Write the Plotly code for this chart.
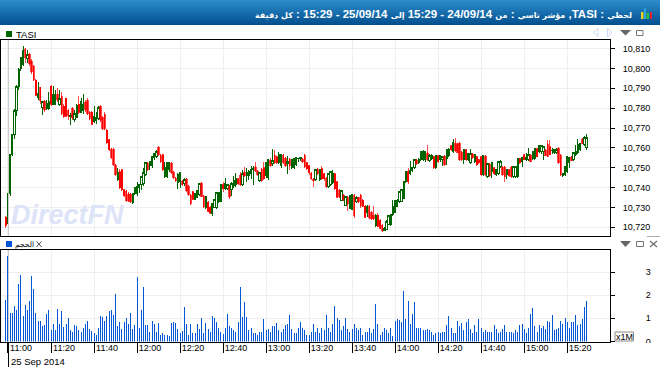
import plotly.graph_objects as go
import pandas as pd

W, H = 660, 367

open_ = [
10725,10722,10737,10756.5,10766.5,10779,10791,10800,10802,10810,
10805,10807.5,10804,10801.5,10794,10785.5,10790.5,10780.5,10783.5,10780,
10780,10791,10782,10782,10787,10782,10786,10781,10785,10779,
10776,10780,10774.5,10775.5,10782,10778,10779,10783,10784,10778,
10778,10773.5,10774,10775,10781,10775.5,10777,10769,10764,10759.5,
10759.5,10751.5,10744,10748,10749,10739,10738.5,10737,10737,10732.5,
10737,10737,10740,10741.5,10742,10746.5,10752.5,10751,10751,10755,
10755.5,10760.5,10756.5,10756.5,10745.5,10745.5,10749,10752.5,10748,10745,
10742.5,10743,10743.5,10742,10744.5,10741,10736.5,10738,10734,10735,
10736.5,10742.5,10736,10730,10732.5,10730,10727,10730,10730,10733,
10733,10741.5,10739.5,10739.5,10741,10739,10741,10741.5,10744.5,10746.5,
10741.5,10748,10746,10746,10747,10749,10750.5,10748.5,10743.5,10749.5,
10750,10746,10745,10754,10752,10756.5,10755.5,10752.5,10751,10756.5,
10755,10752,10754.5,10750,10750,10751.5,10754.5,10754.5,10754.5,10756.5,
10752.5,10751,10747.5,10744.5,10744,10749.5,10744,10749.5,10747,10745,
10740.5,10741.5,10742.5,10747,10743,10739,10733.5,10736.5,10731,10735.5,
10729.5,10729,10736.5,10733,10735,10736.5,10733.5,10730.5,10727.5,10730.5,
10727.5,10726,10721,10726,10723.5,10721,10718.5,10719,10721.5,10721.5,
10726.5,10727.5,10730.5,10733,10733,10734.5,10743,10748,10747,10748.5,
10750,10754,10752.5,10754,10754,10754,10757.5,10753.5,10754.5,10755.5,
10750,10756,10754,10754,10756,10754.5,10756,10761,10758,10762.5,
10762,10762.5,10758,10754,10759,10754,10752.5,10757,10753,10755.5,
10754,10755.5,10746.5,10756,10745.5,10752,10748,10750,10746.5,10747,
10750.5,10750.5,10750.5,10746.5,10749,10750.5,10745.5,10745.5,10745.5,10754.5,
10753,10756.5,10754,10754,10756.5,10754.5,10754.5,10759.5,10758,10758,
10758,10759,10762,10760.5,10758.5,10757.5,10757.5,10760,10756.5,10746,
10746.5,10748,10752.5,10755.5,10754,10756.5,10757.5,10759,10764.5,10761.5,
10760]
high = [
10725.5,10737,10757,10767,10779.5,10791.5,10800,10805.5,10811.5,10810.5,
10809.5,10808,10805,10802,10794.5,10793,10790.5,10783.5,10784,10784,
10788,10791.5,10791,10789,10790,10789,10788,10782,10785,10779.5,
10777.5,10780.5,10779,10782,10786,10785,10787,10784,10785,10778.5,
10778.5,10781,10778,10781,10781.5,10776,10778,10769.5,10764.5,10760,
10760,10752,10750,10749.5,10749.5,10739.5,10739,10738,10737.5,10737,
10740,10743,10742,10745.5,10750,10752.5,10753,10753.5,10755.5,10757,
10759,10760.5,10757,10757,10753,10753,10753,10753,10748.5,10745.5,
10747.5,10748,10744,10745,10745,10741.5,10737,10738.5,10737.5,10739,
10742.5,10743,10736.5,10736,10733,10730.5,10732,10734,10738,10738,
10742,10743,10745,10742,10741.5,10743,10746,10747.5,10745,10748,
10749,10750.5,10750,10749,10751,10751,10753,10749,10748,10750,
10753,10752.5,10754,10755,10759.5,10759,10756,10758,10757,10757,
10755.5,10756,10755,10754.5,10755,10755,10755,10755.5,10755,10757,
10753,10751.5,10748,10745,10749.5,10750,10749.5,10751,10747.5,10745.5,
10747,10748,10749,10747.5,10743.5,10739.5,10739,10737,10736,10736,
10736,10737,10737,10736,10735.5,10737,10734,10731,10731,10731,
10728,10730.5,10726.5,10727,10724,10721.5,10720,10723.5,10726,10726.5,
10733.5,10733.5,10734,10738,10739,10743,10748,10750,10753.5,10750.5,
10754,10754.5,10755,10758.5,10759,10758.5,10761.5,10757,10757,10756,
10756.5,10756.5,10756,10756,10756.5,10759.5,10760,10761.5,10764.5,10765,
10762.5,10763,10758.5,10759,10759.5,10757,10759.5,10757.5,10756.5,10756,
10754.5,10756,10756,10756.5,10752,10752.5,10752.5,10750.5,10749.5,10753,
10754,10751,10751,10749.5,10749.5,10751,10751,10751,10754.5,10755,
10755,10757,10757.5,10760,10757,10758.5,10759.5,10760,10761,10761,
10760.5,10759.5,10764,10764,10760,10759,10760,10760,10757,10747.5,
10750.5,10755.5,10755,10756,10757.5,10761.5,10764.5,10762,10765,10766,
10767]
low = [
10719.5,10722,10736,10756,10764.5,10776,10789,10798.5,10801,10803,
10803,10801,10797,10793.5,10786,10784,10782,10776.5,10778,10779,
10779,10781,10782,10781.5,10783,10781,10776.5,10775,10775.5,10774,
10771.5,10774,10773,10775,10777,10777.5,10777,10778,10776.5,10774,
10771.5,10772.5,10772,10774,10773,10769,10769,10762,10758.5,10754.5,
10751,10746,10743.5,10739.5,10738.5,10735.5,10733,10732.5,10732,10731.5,
10736.5,10736,10737.5,10739,10741,10746,10748.5,10749,10750,10754,
10755,10756,10752.5,10748.5,10745,10745,10748,10747,10744.5,10743,
10739.5,10740,10741,10741,10738,10736,10731,10733.5,10733.5,10734.5,
10736,10735,10729.5,10729,10727.5,10727,10725.5,10729.5,10729,10732,
10732.5,10738,10739,10739,10734,10736,10740,10740.5,10741.5,10741,
10741,10745.5,10743,10744,10744.5,10741.5,10748,10746,10743,10743,
10744,10745,10744,10750.5,10751,10752,10752,10752,10750,10752,
10750.5,10747,10749,10749.5,10749.5,10751,10753,10753.5,10752.5,10750,
10749,10746.5,10744,10740.5,10743.5,10746.5,10743.5,10744,10743.5,10740,
10740,10741,10742,10739,10734.5,10734.5,10733,10733,10730.5,10728,
10729,10728.5,10724.5,10732,10732,10729.5,10730,10724.5,10725,10724,
10723.5,10723.5,10720,10720,10719,10717.5,10718,10718.5,10721,10720.5,
10725.5,10727,10730,10732,10732.5,10734,10742.5,10742,10746.5,10748,
10749.5,10751.5,10752,10753.5,10753.5,10753,10753.5,10753,10754,10749.5,
10749.5,10752.5,10753,10751,10751,10751.5,10755.5,10758.5,10757.5,10758,
10757.5,10753.5,10753.5,10752,10753.5,10753.5,10752,10754.5,10752.5,10751,
10752,10746,10746,10746,10745,10745.5,10745,10746.5,10746,10746.5,
10750,10746,10743,10744.5,10745.5,10745,10745,10745,10745,10752,
10750.5,10754,10753.5,10753.5,10753,10754,10754,10755.5,10757.5,10757,
10754,10756,10755.5,10756.5,10757,10757,10757,10752,10746,10745.5,
10746,10747.5,10750,10753.5,10753.5,10756,10757,10758.5,10762,10761,
10759]
close = [
10721,10737,10756.5,10766.5,10779,10791,10799.5,10805.5,10809,10805.5,
10807,10802.5,10798,10794,10786.5,10787.5,10783.5,10783.5,10779,10782.5,
10783.5,10782,10787,10787,10784,10785,10777,10776,10776,10776,
10776.5,10775,10777.5,10781.5,10778,10783.5,10782,10779,10777,10774.5,
10772,10776,10775.5,10780.5,10774,10769.5,10769.5,10762.5,10759,10755,
10751.5,10746.5,10747.5,10740,10739,10736,10733,10733,10732.5,10737,
10740,10740.5,10741.5,10745.5,10747.5,10752.5,10749,10753,10755.5,10757,
10758,10756.5,10753,10749,10750,10752.5,10752.5,10747.5,10745,10743.5,
10746.5,10747.5,10741.5,10744,10738.5,10736.5,10731.5,10734,10737,10738.5,
10742,10735.5,10730,10735.5,10728,10727,10732,10734,10737.5,10737.5,
10741.5,10739.5,10742,10741.5,10735,10742,10743.5,10744.5,10742,10741.5,
10747,10746,10747.5,10748,10749,10749.5,10748.5,10746.5,10747.5,10743.5,
10744.5,10752.5,10754,10751,10753.5,10752.5,10752.5,10756.5,10756.5,10752.5,
10751,10753,10751,10754,10754.5,10755,10754.6,10755,10753,10750.5,
10749.5,10747.5,10744.5,10743.5,10749,10747,10749,10744.5,10744.5,10740.5,
10747,10748,10747,10739.5,10735,10735,10738.5,10733.5,10735.5,10731.5,
10736,10736.5,10725.5,10735,10732.5,10730.5,10730.5,10725,10730.5,10724.5,
10724,10724,10726,10720.5,10719.5,10718,10719.5,10723,10726,10726.5,
10730.5,10733.5,10733.5,10738,10739,10743,10748,10743,10748.5,10750,
10754,10752,10754,10758,10758,10758,10754,10756,10756,10750,
10756,10753,10756,10755.5,10751.5,10759,10759,10759,10762.5,10758.5,
10757.5,10754,10754,10759,10754,10757,10757,10755,10756.5,10751.5,
10752.5,10746.5,10756,10746.5,10752,10746,10752.5,10747,10749,10753,
10753,10746.5,10745.5,10749,10746,10745.5,10750.5,10750.5,10754.5,10752.5,
10755,10754,10755,10756.5,10753,10758,10759.5,10755.5,10761,10761,
10760.5,10756,10755.5,10756.5,10758.7,10759,10759,10752.5,10746.5,10747.2,
10750.5,10755.5,10755,10753.5,10757.5,10758,10761.5,10762,10762,10765,
10765]
volume_m = [
1.8,3.7,1.22,1.22,1.52,1.35,2.48,2.88,1.09,1.57,
1.38,1.75,2.82,2.27,1.25,.9,.88,.65,.72,1.18,
1.35,.5,.75,.48,1.4,.75,1.3,.62,.75,1.0,
.48,.42,.7,.65,.5,.4,.58,.75,.87,.52,
.47,.38,.3,.6,1.08,1.05,.87,1.08,1.3,1.35,
1.15,2.05,.65,.85,.52,.85,1.0,.75,1.22,.52,
.7,2.78,.6,1.35,2.35,.72,.72,.4,.87,.75,
.4,.8,.3,.35,.3,.3,.25,.8,.85,.8,
.55,.35,.45,1.48,.75,.27,.75,.38,.35,.75,
.55,1.0,.35,.8,.55,.4,1.08,1.0,.85,.6,
.43,.32,.58,1.17,.65,.57,.48,.39,.83,2.35,
1.05,1.7,1.05,.48,.6,.35,.35,.3,.39,.39,
.96,.48,.52,.39,.65,.65,.78,.48,.43,.52,
.7,.74,1.13,.52,.35,.35,.57,.83,.57,.48,
.26,.26,.39,.74,.39,.57,.35,.6,.48,1.13,
.57,.43,.74,1.52,1.0,.91,.48,.65,1.0,.52,
.43,.52,.74,.57,.48,.6,.3,.43,.43,.57,
.35,.52,1.6,.74,.3,.39,.6,.48,.35,.57,
.22,.87,.96,.91,.83,2.17,.96,1.74,.74,1.17,
1.7,.6,.57,.57,.48,.48,.52,.48,.43,.26,
.35,.43,
.35,.39,.39,.7,1.09,.6,.35,.35,.87,.65,
.78,.48,.83,.96,.52,.35,.7,.39,.96,.6,
.43,.48,.43,.39,.39,.7,.52,.35,.39,.52,
.7,.39,.43,.43,.35,.48,.43,.7,.74,.52,
.35,.6,1.17,1.43,.65,.43,.7,.6,.65,.52,
.87,.83,1.13,.48,.52,.6,.87,.74,1.0,.83,
.6,.83,.83,1.13,.7,.74,.96,1.48,1.74]
price_ticks = [10720,10730,10740,10750,10760,10770,10780,10790,10800,10810]
volume_ticks = [0,1,2,3]
n = min(len(open_), len(high), len(low), len(close), len(volume_m))
times = pd.date_range("2014-09-25 10:59", periods=n, freq="min")

FONT = "Liberation Sans, Arial, sans-serif"
px = lambda x: x / W
py = lambda y: 1 - y / H

def rect(x0, y0, x1, y1, fill, line=None, lw=1):
    return dict(type="rect", xref="paper", yref="paper", x0=px(x0), x1=px(x1), y0=py(y1), y1=py(y0),
                fillcolor=fill, line=dict(color=line or fill, width=lw if line else 0), layer="above")
def poly(pts, fill=None, line=None, lw=1):
    path = "M" + " L".join(f"{px(a):.5f},{py(b):.5f}" for a, b in pts)
    if fill:
        path += " Z"
    return dict(type="path", xref="paper", yref="paper", path=path, fillcolor=fill or "rgba(0,0,0,0)",
                line=dict(color=line or fill, width=lw if line else 0), layer="above")
def vline(x, y0, y1, color, lw=1):
    return poly([(x, y0), (x, y1)], line=color, lw=lw)

shapes = []
c0, c1 = (0x2c, 0x8c, 0xcc), (0x03, 0x50, 0x8f)
for k in range(25):
    t = k / 24
    col = "rgb(%d,%d,%d)" % tuple(round(a + (b - a) * t) for a, b in zip(c0, c1))
    shapes.append(rect(0, k, W, k + 1, col))
shapes += [rect(641, 12, 643.5, 19, "#e8d020"), rect(644, 8, 646, 19, "#2fa0e0"),
           rect(646.5, 13, 649, 19, "#30c040"), rect(650, 12, 652, 19, "#e02030")]
shapes += [rect(6, 31, 12, 37, "#006400"), rect(6, 241, 12, 247, "#0055d4")]
shapes += [poly([(36.5, 241.5), (41.5, 247)], line="#444"), poly([(41.5, 241.5), (36.5, 247)], line="#444")]
shapes += [poly([(598, 28.5), (593.5, 32.5), (598, 36.5)], fill="#ffffff", line="#c5d8f5"),
           poly([(607.5, 28.5), (612, 32.5), (607.5, 36.5)], fill="#ffffff", line="#c5d8f5"),
           poly([(620, 30), (631, 30), (625.5, 35.5)], fill="#666666"),
           rect(636.5, 30.5, 643, 35.5, "#ffffff", "#777777"),
           poly([(620, 241), (631, 241), (625.5, 247)], fill="#666666"),
           rect(636.5, 241.5, 643.5, 246.5, "#ffffff", "#777777"),
           poly([(650, 241), (657, 247)], line="#777777", lw=1.5),
           poly([(657, 241), (650, 247)], line="#777777", lw=1.5),
           poly([(647, 236.5), (660, 236.5)], line="#aaaaaa")]
shapes += [vline(8.5, 40, 236, "#cccccc"), vline(8.5, 250, 342, "#cccccc"), vline(8.5, 342, 367, "#000000")]
shapes += [rect(640, 343, 656, 352, "#ffffff"), rect(615, 332, 633.5, 341, "#ffffff", "#888888")]

fig = go.Figure()
fig.add_trace(go.Candlestick(x=times[:n], open=open_[:n], high=high[:n], low=low[:n], close=close[:n],
                             xaxis="x", yaxis="y", whiskerwidth=0,
                             increasing=dict(line=dict(color="#006400", width=1), fillcolor="#ffffff"),
                             decreasing=dict(line=dict(color="#ff0000", width=0.7), fillcolor="#ff0000")))
fig.add_trace(go.Bar(x=times[:n], y=volume_m[:n], xaxis="x2", yaxis="y2",
                     marker=dict(color="rgba(0,85,212,0.99)", line=dict(width=0)), width=60000 * 0.47))

xr = ["2014-09-25 10:56:45", "2014-09-25 15:39:55"]
grid = "#eeeeee"
tickv = pd.date_range("2014-09-25 11:00", "2014-09-25 15:20", freq="20min")
common_x = dict(type="date", range=xr, showgrid=True, gridcolor=grid, gridwidth=1, tickvals=list(tickv),
                tickformat="%H:%M", linecolor="#000000", linewidth=1, mirror=True, zeroline=False,
                rangeslider=dict(visible=False), domain=[px(1), px(610)], automargin=False)
text_font = dict(family=FONT, size=9, color="#000000")

def ar(s):
    return f'<span style="font-size:8px;font-family:DejaVu Sans">{s}</span>'
def la(s):
    return f'<span style="font-size:11.5px">{s}</span>'
header = (ar("\u202bلحظي") + la(" : TASI, ") + ar("مؤشر تاسي") + la(" : ") + ar("من") + la(" 24/09/14 - 15:29 ")
          + ar("إلى") + la(" 25/09/14 - 15:29 : ") + ar("كل دقيقة\u202c"))

annos = [
    dict(x=px(634), y=py(14), xref="paper", yref="paper", xanchor="right", yanchor="middle", showarrow=False,
         text="<b>" + header + "</b>", font=dict(family="Liberation Sans, DejaVu Sans, Arial, sans-serif", size=12, color="#ffffff")),
    dict(x=px(13.5), y=py(34.5), xref="paper", yref="paper", xanchor="left", yanchor="middle", showarrow=False,
         text="TASI", font=dict(family=FONT, size=9.5, color="#000000")),
    dict(x=px(13), y=py(244), xref="paper", yref="paper", xanchor="left", yanchor="middle", showarrow=False,
         text="الحجم", font=dict(family="DejaVu Sans, Liberation Sans", size=7.5, color="#000000")),
    dict(x=px(9), y=py(361), xref="paper", yref="paper", xanchor="left", yanchor="middle", showarrow=False,
         text="25 Sep 2014", font=dict(family=FONT, size=9.5, color="#000000")),
    dict(x=px(9), y=py(215), xref="paper", yref="paper", xanchor="left", yanchor="middle", showarrow=False,
         text="<b><i>DirectFN</i></b>", font=dict(family=FONT, size=27, color="#dde4f8")),
    dict(x=px(624.5), y=py(336.5), xref="paper", yref="paper", xanchor="center", yanchor="middle", showarrow=False,
         text="x1M", font=text_font),
]

fig.update_layout(
    width=W, height=H, autosize=False, margin=dict(l=0, r=0, t=0, b=0, pad=0, autoexpand=False),
    paper_bgcolor="#ffffff", plot_bgcolor="#ffffff", showlegend=False, boxgap=0.1,
    font=text_font, shapes=shapes, annotations=annos,
    xaxis=dict(common_x, anchor="y", showticklabels=False, ticks=""),
    xaxis2=dict(common_x, anchor="y2", ticks="outside", ticklen=10, tickcolor="#000000", tickwidth=1,
                ticklabelshift=13, ticklabelstandoff=-12, tickfont=text_font),
    yaxis=dict(domain=[py(236), py(39.5)], range=[10715.6, 10814.6], side="right", anchor="x", tickvals=price_ticks,
               tickformat=",d", ticks="outside", ticklen=4, tickcolor="#000000", showgrid=True, gridcolor=grid,
               linecolor="#000000", linewidth=1, mirror=True, zeroline=False, ticklabelstandoff=6, tickfont=text_font),
    yaxis2=dict(domain=[py(341.5), py(250)], range=[0, 3.95], side="right", anchor="x2", tickvals=volume_ticks,
                ticks="outside", ticklen=4, tickcolor="#000000", showgrid=True, gridcolor=grid,
                linecolor="#000000", linewidth=1, mirror=True, zeroline=False, ticklabelstandoff=29, tickfont=text_font),
)
fig.write_html("out.html", config=dict(displayModeBar=False),
               post_script="document.body.style.margin='0';document.documentElement.style.overflow='hidden';"
                           "document.querySelectorAll('.bars path,.boxes path').forEach(function(p){p.style.shapeRendering='crispEdges';});")
